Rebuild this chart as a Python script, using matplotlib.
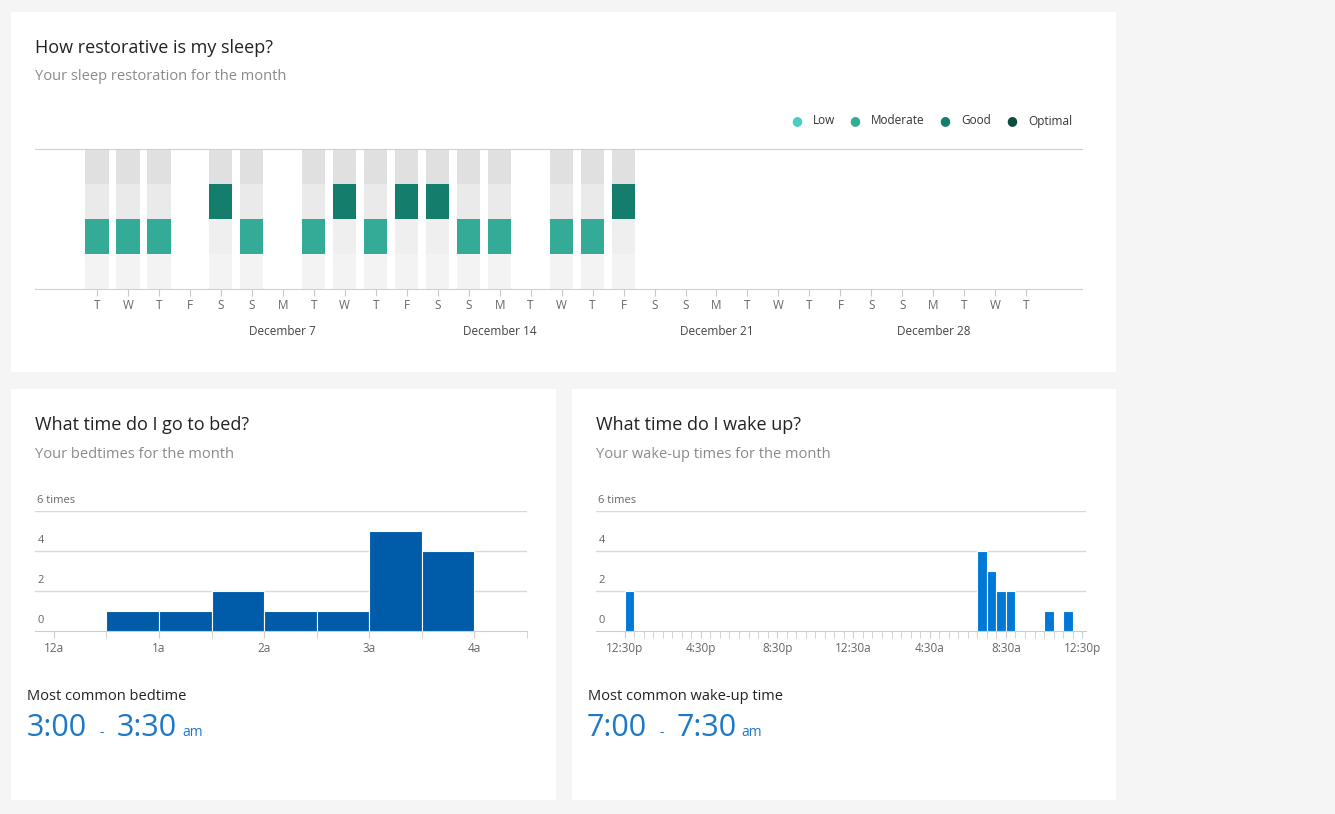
import matplotlib
matplotlib.use("Agg")
import matplotlib.pyplot as plt
from matplotlib.patches import Rectangle
import matplotlib.transforms as mtransforms

plt.rcParams['font.family'] = ['Open Sans', 'DejaVu Sans']

# ---------------- data ----------------
days = list(range(1, 32))                     # December 1..31
day_letters = ["T","W","T","F","S","S","M"] * 5
day_letters = day_letters[:31]
# restoration level per day: 0 none, 1 Low, 2 Moderate, 3 Good, 4 Optimal
restoration = [2,2,2,0,3,2,0,2,3,2,3,3,2,2,0,2,2,3]
date_labels = {7: "December 7", 14: "December 14", 21: "December 21", 28: "December 28"}
level_names = ["Low", "Moderate", "Good", "Optimal"]
level_colors = ["#4ccfc0", "#33ab96", "#147d6b", "#0b4d40"]

bed_bins = [0.5, 1.0, 1.5, 2.0, 2.5, 3.0, 3.5]      # hours after midnight (bin start)
bed_counts = [1, 1, 2, 1, 1, 5, 4]
bed_ticks = [0, 1, 2, 3, 4]
bed_tick_labels = ["12a", "1a", "2a", "3a", "4a"]

wake_bins = [0.0, 18.5, 19.0, 19.5, 20.0, 22.0, 23.0]  # hours after 12:30p (bin start)
wake_counts = [2, 4, 3, 2, 2, 1, 1]
wake_ticks = [0, 4, 8, 12, 16, 20, 24]
wake_tick_labels = ["12:30p", "4:30p", "8:30p", "12:30a", "4:30a", "8:30a", "12:30p"]

W, H = 1335, 814
fig = plt.figure(figsize=(W/100, H/100), dpi=100, facecolor="#f5f5f5")

def rect(x0, y0, x1, y1):
    return [x0/W, 1 - y1/H, (x1-x0)/W, (y1-y0)/H]

def px(x, y):
    return x/W, 1 - y/H

# panels
for (x0, y0, x1, y1) in [(11, 12, 1116, 372), (11, 389, 556, 800), (572, 389, 1116, 800)]:
    fig.patches.append(Rectangle((x0/W, 1-y1/H), (x1-x0)/W, (y1-y0)/H,
                                 transform=fig.transFigure, facecolor="white", edgecolor="none", zorder=-10))

title_kw = dict(fontsize=13, color="#222222")
sub_kw = dict(fontsize=10.5, color="#8a8a8a")
fig.text(*px(35, 48), "How restorative is my sleep?", va="center", **title_kw)
fig.text(*px(35, 77), "Your sleep restoration for the month", va="center", **sub_kw)
fig.text(*px(35, 425), "What time do I go to bed?", va="center", **title_kw)
fig.text(*px(35, 454), "Your bedtimes for the month", va="center", **sub_kw)
fig.text(*px(596, 425), "What time do I wake up?", va="center", **title_kw)
fig.text(*px(596, 454), "Your wake-up times for the month", va="center", **sub_kw)

# legend
lx = [797, 855, 945, 1012]
for x, name, c in zip(lx, level_names, level_colors):
    fig.text(*px(x, 121), "\u25CF", color=c, fontsize=9, ha="center", va="center")
    fig.text(*px(x + 16, 121), name, color="#333333", fontsize=8.5, va="center")

# ---------------- restoration chart ----------------
ax = fig.add_axes(rect(35, 149, 1082, 289))
ax.patch.set_alpha(0)
ax.set_xlim(-1.0, 32.8)
ax.set_ylim(0, 4)
band_colors = ["#f3f3f3", "#efefef", "#eaeaea", "#e0e0e0"]
bw = 0.75
for i, lvl in enumerate(restoration):
    d = days[i]
    if lvl == 0:
        continue
    for b in range(4):
        c = level_colors[b] if (b + 1) == lvl else band_colors[b]
        ax.bar(d, 1, bottom=b, width=bw, color=c, linewidth=0)
for s in ["left", "right"]:
    ax.spines[s].set_visible(False)
for s in ["top", "bottom"]:
    ax.spines[s].set_color("#d0d0d0")
ax.set_yticks([])
ax.set_xticks(days)
ax.set_xticklabels(day_letters, fontsize=8.5, color="#666666")
ax.tick_params(axis="x", length=5, color="#c8c8c8", pad=2)
for d, lab in date_labels.items():
    ax.text(d, -0.26, lab, transform=ax.get_xaxis_transform(), ha="center", va="top",
            fontsize=8.5, color="#444444")

def hist_axes(r, xlim, bins, counts, width, color, ticks, labels, minor):
    a = fig.add_axes(r)
    a.patch.set_alpha(0)
    a.set_xlim(*xlim)
    a.set_ylim(0, 6)
    a.bar(bins, counts, width=width, align="edge", color=color, edgecolor="white", linewidth=0.8, zorder=3)
    for yv in [2, 4, 6]:
        a.axhline(yv, color="#d9d9d9", linewidth=1, zorder=1)
    for s in ["left", "right", "top"]:
        a.spines[s].set_visible(False)
    a.spines["bottom"].set_color("#cccccc")
    a.set_yticks([])
    a.set_xticks(ticks)
    a.set_xticklabels(labels, fontsize=8.5, color="#666666")
    a.set_xticks(minor, minor=True)
    a.tick_params(axis="x", which="both", length=5, color="#cccccc", pad=3)
    tr = mtransforms.blended_transform_factory(a.transAxes, a.transData)
    for yv, t in [(0, "0"), (2, "2"), (4, "4"), (6, "6 times")]:
        a.text(0.005, yv + 0.25, t, transform=tr, fontsize=8, color="#666666", va="bottom")
    return a

hist_axes(rect(35, 511, 527, 631), (-0.18, 4.5), bed_bins, bed_counts, 0.5, "#005ba8",
          bed_ticks, bed_tick_labels, [x * 0.5 for x in range(0, 10)])
hist_axes(rect(596, 511, 1086, 631), (-1.5, 24.2), wake_bins, wake_counts, 0.5, "#0078d7",
          wake_ticks, wake_tick_labels, [x * 0.5 for x in range(0, 49)])

# most common
fig.text(*px(27, 696), "Most common bedtime", fontsize=10.5, color="#222222", va="center")
fig.text(*px(588, 696), "Most common wake-up time", fontsize=10.5, color="#222222", va="center")
big = dict(fontsize=22, color="#1e78c8", va="baseline")
small = dict(fontsize=10, color="#1e78c8", va="baseline")
fig.text(*px(27, 736), "3:00", **big)
fig.text(*px(99, 736), "-", **small)
fig.text(*px(117, 736), "3:30", **big)
fig.text(*px(182, 736), "am", **small)
fig.text(*px(587, 736), "7:00", **big)
fig.text(*px(659, 736), "-", **small)
fig.text(*px(677, 736), "7:30", **big)
fig.text(*px(741, 736), "am", **small)

fig.savefig("out.png", dpi=100, facecolor=fig.get_facecolor())
